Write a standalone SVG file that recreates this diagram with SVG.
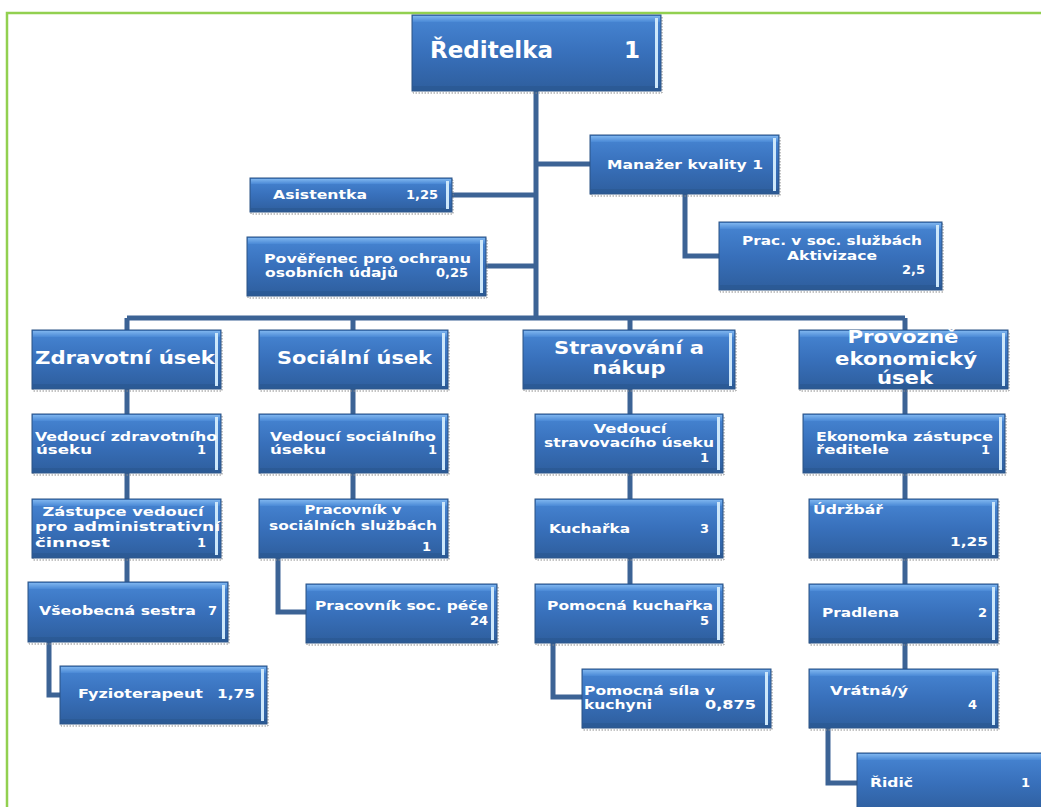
<svg xmlns="http://www.w3.org/2000/svg" width="1041" height="807" viewBox="0 0 1041 807">
<style>
.box{fill:url(#gb);stroke:#2A5283;stroke-width:1}
.bt{fill:url(#gt)}
.bb{fill:#2A5690;opacity:.6}
.br{fill:#CDE7FA}
.sh{fill:none;stroke:#8A8A8A;stroke-width:1;stroke-dasharray:1.5 1.5}
.c{fill:none;stroke:#3C6395;stroke-width:5;stroke-linejoin:miter}
.t{font-family:"DejaVu Sans","Liberation Sans",sans-serif;font-weight:bold;font-size:13px;fill:#fff}
.h{font-size:17px}
.d{font-size:23px}
.m{text-anchor:middle}
.e{text-anchor:end}
</style>
<defs>
<linearGradient id="gb" x1="0" y1="0" x2="0" y2="1">
<stop offset="0" stop-color="#4786D4"/>
<stop offset="0.5" stop-color="#3870BB"/>
<stop offset="1" stop-color="#2E5E9D"/>
</linearGradient>
<linearGradient id="gt" x1="0" y1="0" x2="0" y2="1">
<stop offset="0" stop-color="#7DB4EE"/>
<stop offset="1" stop-color="#4A89D6"/>
</linearGradient>
</defs>
<rect x="7" y="13" width="1045" height="805" fill="none" stroke="#92D050" stroke-width="2.5"/>

<g id="connectors">
<path class="c" d="M536 91V318"/>
<path class="c" d="M127 318H905"/>
<path class="c" d="M127 318V330M353 318V330M630 318V330M905 318V330"/>
<path class="c" d="M536 164H590"/>
<path class="c" d="M452 195H536"/>
<path class="c" d="M486 266H536"/>
<path class="c" d="M685 194V256H719"/>
<path class="c" d="M127 389V414M127 473V499M127 558V582"/>
<path class="c" d="M49 642V695H60"/>
<path class="c" d="M353 389V414M353 473V499"/>
<path class="c" d="M278 558V612H306"/>
<path class="c" d="M630 389V414M630 473V499M630 558V584"/>
<path class="c" d="M553 643V697H582"/>
<path class="c" d="M905 389V414M905 473V499M905 558V584M905 643V669"/>
<path class="c" d="M828 728V783H857"/>
</g>

<g id="reditelka">
<rect class="sh" x="413" y="17" width="249" height="76"/>
<rect class="box" x="412" y="15" width="249" height="76"/>
<rect class="bt" x="413" y="16" width="247" height="6"/>
<rect class="bb" x="413" y="86" width="247" height="4"/>
<rect class="br" x="655" y="18" width="3" height="70"/>
<text class="t d" x="430" y="58" textLength="123" lengthAdjust="spacingAndGlyphs">Ředitelka</text>
<text class="t d e" x="640" y="58">1</text>
</g>

<g id="manazer">
<rect class="sh" x="591" y="137" width="189" height="59"/>
<rect class="box" x="590" y="135" width="189" height="59"/>
<rect class="bt" x="591" y="136" width="187" height="6"/>
<rect class="bb" x="591" y="189" width="187" height="4"/>
<rect class="br" x="773" y="138" width="3" height="53"/>
<text class="t" x="607" y="169" textLength="156" lengthAdjust="spacingAndGlyphs">Manažer kvality 1</text>
</g>

<g id="prac-aktivizace">
<rect class="sh" x="720" y="224" width="223" height="68"/>
<rect class="box" x="719" y="222" width="223" height="68"/>
<rect class="bt" x="720" y="223" width="221" height="6"/>
<rect class="bb" x="720" y="285" width="221" height="4"/>
<rect class="br" x="936" y="225" width="3" height="62"/>
<text class="t" x="742" y="245" textLength="180" lengthAdjust="spacingAndGlyphs">Prac. v soc. službách</text>
<text class="t m" x="832" y="260" textLength="90" lengthAdjust="spacingAndGlyphs">Aktivizace</text>
<text class="t e" x="925" y="274">2,5</text>
</g>

<g id="asistentka">
<rect class="sh" x="251" y="180" width="202" height="34"/>
<rect class="box" x="250" y="178" width="202" height="34"/>
<rect class="bt" x="251" y="179" width="200" height="5"/>
<rect class="bb" x="251" y="208" width="200" height="3"/>
<rect class="br" x="446" y="181" width="3" height="28"/>
<text class="t" x="273" y="199" textLength="94" lengthAdjust="spacingAndGlyphs">Asistentka</text>
<text class="t e" x="438" y="199">1,25</text>
</g>

<g id="poverenec">
<rect class="sh" x="248" y="239" width="239" height="59"/>
<rect class="box" x="247" y="237" width="239" height="59"/>
<rect class="bt" x="248" y="238" width="237" height="6"/>
<rect class="bb" x="248" y="291" width="237" height="4"/>
<rect class="br" x="480" y="240" width="3" height="53"/>
<text class="t" x="264" y="263" textLength="207" lengthAdjust="spacingAndGlyphs">Pověřenec pro ochranu</text>
<text class="t" x="265" y="277" textLength="133" lengthAdjust="spacingAndGlyphs">osobních údajů</text>
<text class="t e" x="468" y="277">0,25</text>
</g>

<g id="zdravotni-usek">
<rect class="sh" x="33" y="332" width="189" height="59"/>
<rect class="box" x="32" y="330" width="189" height="59"/>
<rect class="bt" x="33" y="331" width="187" height="6"/>
<rect class="bb" x="33" y="384" width="187" height="4"/>
<rect class="br" x="215" y="333" width="3" height="53"/>
<text class="t h" x="35" y="364" textLength="180" lengthAdjust="spacingAndGlyphs">Zdravotní úsek</text>
</g>

<g id="socialni-usek">
<rect class="sh" x="260" y="332" width="189" height="59"/>
<rect class="box" x="259" y="330" width="189" height="59"/>
<rect class="bt" x="260" y="331" width="187" height="6"/>
<rect class="bb" x="260" y="384" width="187" height="4"/>
<rect class="br" x="442" y="333" width="3" height="53"/>
<text class="t h" x="277" y="364" textLength="155" lengthAdjust="spacingAndGlyphs">Sociální úsek</text>
</g>

<g id="stravovani">
<rect class="sh" x="524" y="332" width="212" height="59"/>
<rect class="box" x="523" y="330" width="212" height="59"/>
<rect class="bt" x="524" y="331" width="210" height="6"/>
<rect class="bb" x="524" y="384" width="210" height="4"/>
<rect class="br" x="729" y="333" width="3" height="53"/>
<text class="t h" x="554" y="354" textLength="150" lengthAdjust="spacingAndGlyphs">Stravování a</text>
<text class="t h m" x="629" y="374" textLength="73" lengthAdjust="spacingAndGlyphs">nákup</text>
</g>

<g id="provozne-ekonomicky">
<rect class="sh" x="800" y="332" width="209" height="59"/>
<rect class="box" x="799" y="330" width="209" height="59"/>
<rect class="bt" x="800" y="331" width="207" height="6"/>
<rect class="bb" x="800" y="384" width="207" height="4"/>
<rect class="br" x="1002" y="333" width="3" height="53"/>
<text class="t h m" x="903" y="343" textLength="111" lengthAdjust="spacingAndGlyphs">Provozně</text>
<text class="t h m" x="906" y="365" textLength="142" lengthAdjust="spacingAndGlyphs">ekonomický</text>
<text class="t h m" x="905" y="384" textLength="56" lengthAdjust="spacingAndGlyphs">úsek</text>
</g>

<g id="vedouci-zdravotniho">
<rect class="sh" x="33" y="416" width="189" height="59"/>
<rect class="box" x="32" y="414" width="189" height="59"/>
<rect class="bt" x="33" y="415" width="187" height="6"/>
<rect class="bb" x="33" y="468" width="187" height="4"/>
<rect class="br" x="215" y="417" width="3" height="53"/>
<text class="t" x="35" y="441" textLength="182" lengthAdjust="spacingAndGlyphs">Vedoucí zdravotního</text>
<text class="t" x="36" y="454" textLength="56" lengthAdjust="spacingAndGlyphs">úseku</text>
<text class="t e" x="206" y="454">1</text>
</g>

<g id="vedouci-socialniho">
<rect class="sh" x="260" y="416" width="189" height="59"/>
<rect class="box" x="259" y="414" width="189" height="59"/>
<rect class="bt" x="260" y="415" width="187" height="6"/>
<rect class="bb" x="260" y="468" width="187" height="4"/>
<rect class="br" x="442" y="417" width="3" height="53"/>
<text class="t" x="270" y="441" textLength="166" lengthAdjust="spacingAndGlyphs">Vedoucí sociálního</text>
<text class="t" x="270" y="454" textLength="56" lengthAdjust="spacingAndGlyphs">úseku</text>
<text class="t e" x="437" y="454">1</text>
</g>

<g id="vedouci-stravovaciho">
<rect class="sh" x="536" y="416" width="188" height="59"/>
<rect class="box" x="535" y="414" width="188" height="59"/>
<rect class="bt" x="536" y="415" width="186" height="6"/>
<rect class="bb" x="536" y="468" width="186" height="4"/>
<rect class="br" x="717" y="417" width="3" height="53"/>
<text class="t m" x="630" y="433" textLength="73" lengthAdjust="spacingAndGlyphs">Vedoucí</text>
<text class="t" x="544" y="447" textLength="170" lengthAdjust="spacingAndGlyphs">stravovacího úseku</text>
<text class="t e" x="709" y="462">1</text>
</g>

<g id="ekonomka">
<rect class="sh" x="804" y="416" width="202" height="59"/>
<rect class="box" x="803" y="414" width="202" height="59"/>
<rect class="bt" x="804" y="415" width="200" height="6"/>
<rect class="bb" x="804" y="468" width="200" height="4"/>
<rect class="br" x="999" y="417" width="3" height="53"/>
<text class="t" x="816" y="441" textLength="177" lengthAdjust="spacingAndGlyphs">Ekonomka zástupce</text>
<text class="t" x="816" y="454" textLength="73" lengthAdjust="spacingAndGlyphs">ředitele</text>
<text class="t e" x="990" y="454">1</text>
</g>

<g id="zastupce-vedouci">
<rect class="sh" x="33" y="501" width="189" height="59"/>
<rect class="box" x="32" y="499" width="189" height="59"/>
<rect class="bt" x="33" y="500" width="187" height="6"/>
<rect class="bb" x="33" y="553" width="187" height="4"/>
<rect class="br" x="215" y="502" width="3" height="53"/>
<text class="t m" x="123" y="516" textLength="161" lengthAdjust="spacingAndGlyphs">Zástupce vedoucí</text>
<text class="t" x="35" y="531" textLength="185" lengthAdjust="spacingAndGlyphs">pro administrativní</text>
<text class="t" x="35" y="547" textLength="75" lengthAdjust="spacingAndGlyphs">činnost</text>
<text class="t e" x="206" y="547">1</text>
</g>

<g id="pracovnik-soc-sluzby">
<rect class="sh" x="260" y="501" width="189" height="59"/>
<rect class="box" x="259" y="499" width="189" height="59"/>
<rect class="bt" x="260" y="500" width="187" height="6"/>
<rect class="bb" x="260" y="553" width="187" height="4"/>
<rect class="br" x="442" y="502" width="3" height="53"/>
<text class="t m" x="353" y="514" textLength="97" lengthAdjust="spacingAndGlyphs">Pracovník v</text>
<text class="t" x="269" y="530" textLength="168" lengthAdjust="spacingAndGlyphs">sociálních službách</text>
<text class="t e" x="431" y="551">1</text>
</g>

<g id="kucharka">
<rect class="sh" x="536" y="501" width="188" height="59"/>
<rect class="box" x="535" y="499" width="188" height="59"/>
<rect class="bt" x="536" y="500" width="186" height="6"/>
<rect class="bb" x="536" y="553" width="186" height="4"/>
<rect class="br" x="717" y="502" width="3" height="53"/>
<text class="t" x="549" y="533" textLength="81" lengthAdjust="spacingAndGlyphs">Kuchařka</text>
<text class="t e" x="709" y="533">3</text>
</g>

<g id="udrzbar">
<rect class="sh" x="810" y="501" width="189" height="59"/>
<rect class="box" x="809" y="499" width="189" height="59"/>
<rect class="bt" x="810" y="500" width="187" height="6"/>
<rect class="bb" x="810" y="553" width="187" height="4"/>
<rect class="br" x="992" y="502" width="3" height="53"/>
<text class="t" x="813" y="514" textLength="70" lengthAdjust="spacingAndGlyphs">Údržbář</text>
<text class="t e" x="988" y="546" textLength="38" lengthAdjust="spacingAndGlyphs">1,25</text>
</g>

<g id="vseobecna-sestra">
<rect class="sh" x="29" y="584" width="200" height="60"/>
<rect class="box" x="28" y="582" width="200" height="60"/>
<rect class="bt" x="29" y="583" width="198" height="6"/>
<rect class="bb" x="29" y="637" width="198" height="4"/>
<rect class="br" x="222" y="585" width="3" height="54"/>
<text class="t" x="39" y="615" textLength="157" lengthAdjust="spacingAndGlyphs">Všeobecná sestra</text>
<text class="t e" x="217" y="615">7</text>
</g>

<g id="pracovnik-soc-pece">
<rect class="sh" x="307" y="586" width="191" height="59"/>
<rect class="box" x="306" y="584" width="191" height="59"/>
<rect class="bt" x="307" y="585" width="189" height="6"/>
<rect class="bb" x="307" y="638" width="189" height="4"/>
<rect class="br" x="491" y="587" width="3" height="53"/>
<text class="t" x="315" y="610" textLength="173" lengthAdjust="spacingAndGlyphs">Pracovník soc. péče</text>
<text class="t e" x="488" y="625">24</text>
</g>

<g id="pomocna-kucharka">
<rect class="sh" x="536" y="586" width="188" height="59"/>
<rect class="box" x="535" y="584" width="188" height="59"/>
<rect class="bt" x="536" y="585" width="186" height="6"/>
<rect class="bb" x="536" y="638" width="186" height="4"/>
<rect class="br" x="717" y="587" width="3" height="53"/>
<text class="t" x="547" y="610" textLength="166" lengthAdjust="spacingAndGlyphs">Pomocná kuchařka</text>
<text class="t e" x="709" y="625">5</text>
</g>

<g id="pradlena">
<rect class="sh" x="810" y="586" width="189" height="59"/>
<rect class="box" x="809" y="584" width="189" height="59"/>
<rect class="bt" x="810" y="585" width="187" height="6"/>
<rect class="bb" x="810" y="638" width="187" height="4"/>
<rect class="br" x="992" y="587" width="3" height="53"/>
<text class="t" x="822" y="617" textLength="77" lengthAdjust="spacingAndGlyphs">Pradlena</text>
<text class="t e" x="987" y="617">2</text>
</g>

<g id="fyzioterapeut">
<rect class="sh" x="61" y="668" width="207" height="58"/>
<rect class="box" x="60" y="666" width="207" height="58"/>
<rect class="bt" x="61" y="667" width="205" height="6"/>
<rect class="bb" x="61" y="719" width="205" height="4"/>
<rect class="br" x="261" y="669" width="3" height="52"/>
<text class="t" x="78" y="698" textLength="125" lengthAdjust="spacingAndGlyphs">Fyzioterapeut</text>
<text class="t e" x="255" y="698" textLength="38" lengthAdjust="spacingAndGlyphs">1,75</text>
</g>

<g id="pomocna-sila">
<rect class="sh" x="583" y="671" width="189" height="59"/>
<rect class="box" x="582" y="669" width="189" height="59"/>
<rect class="bt" x="583" y="670" width="187" height="6"/>
<rect class="bb" x="583" y="723" width="187" height="4"/>
<rect class="br" x="765" y="672" width="3" height="53"/>
<text class="t" x="584" y="695" textLength="131" lengthAdjust="spacingAndGlyphs">Pomocná síla v</text>
<text class="t" x="584" y="709" textLength="68" lengthAdjust="spacingAndGlyphs">kuchyni</text>
<text class="t e" x="756" y="709" textLength="51" lengthAdjust="spacingAndGlyphs">0,875</text>
</g>

<g id="vratna">
<rect class="sh" x="810" y="671" width="189" height="59"/>
<rect class="box" x="809" y="669" width="189" height="59"/>
<rect class="bt" x="810" y="670" width="187" height="6"/>
<rect class="bb" x="810" y="723" width="187" height="4"/>
<rect class="br" x="992" y="672" width="3" height="53"/>
<text class="t" x="830" y="695" textLength="78" lengthAdjust="spacingAndGlyphs">Vrátná/ý</text>
<text class="t e" x="977" y="709">4</text>
</g>

<g id="ridic">
<rect class="box" x="857" y="753" width="195" height="60"/>
<rect class="bt" x="858" y="754" width="193" height="6"/>
<text class="t" x="870" y="787" textLength="43" lengthAdjust="spacingAndGlyphs">Řidič</text>
<text class="t e" x="1030" y="787">1</text>
</g>
</svg>
